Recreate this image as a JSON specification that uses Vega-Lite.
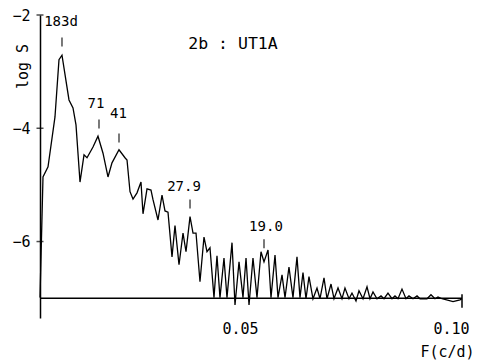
{
  "$schema": "https://vega.github.io/schema/vega-lite/v6.json",
  "width": 422,
  "height": 303,
  "autosize": {"type": "none"},
  "padding": {"left": 40, "top": 15, "right": 24, "bottom": 44},
  "background": "white",
  "config": {"view": {"stroke": null}, "font": "DejaVu Sans Mono"},
  "datasets": {
    "spectrum": [
      {"f": 0.0000, "s": -6.99}, {"f": 0.00071, "s": -4.86}, {"f": 0.00190, "s": -4.68}, {"f": 0.00355, "s": -3.80},
      {"f": 0.00450, "s": -2.79}, {"f": 0.00521, "s": -2.71}, {"f": 0.00687, "s": -3.50}, {"f": 0.00782, "s": -3.64},
      {"f": 0.00853, "s": -3.94}, {"f": 0.00948, "s": -4.95}, {"f": 0.01043, "s": -4.47}, {"f": 0.01114, "s": -4.52},
      {"f": 0.01256, "s": -4.33}, {"f": 0.01374, "s": -4.14}, {"f": 0.01493, "s": -4.44}, {"f": 0.01611, "s": -4.86},
      {"f": 0.01706, "s": -4.61}, {"f": 0.01872, "s": -4.38}, {"f": 0.02014, "s": -4.52}, {"f": 0.02062, "s": -4.56},
      {"f": 0.02133, "s": -5.12}, {"f": 0.02204, "s": -5.25}, {"f": 0.02299, "s": -5.14}, {"f": 0.02393, "s": -4.95},
      {"f": 0.02441, "s": -5.51}, {"f": 0.02536, "s": -5.07}, {"f": 0.02630, "s": -5.09}, {"f": 0.02678, "s": -5.26},
      {"f": 0.02796, "s": -5.62}, {"f": 0.02891, "s": -5.18}, {"f": 0.02962, "s": -5.46}, {"f": 0.03033, "s": -5.48},
      {"f": 0.03128, "s": -6.27}, {"f": 0.03199, "s": -5.72}, {"f": 0.03294, "s": -6.41}, {"f": 0.03389, "s": -5.85},
      {"f": 0.03460, "s": -6.18}, {"f": 0.03555, "s": -5.56}, {"f": 0.03626, "s": -5.85}, {"f": 0.03697, "s": -5.85},
      {"f": 0.03791, "s": -6.71}, {"f": 0.03886, "s": -5.92}, {"f": 0.03957, "s": -6.18}, {"f": 0.04028, "s": -6.11},
      {"f": 0.04123, "s": -6.99}, {"f": 0.04194, "s": -6.25}, {"f": 0.04265, "s": -6.99}, {"f": 0.04360, "s": -6.29},
      {"f": 0.04431, "s": -6.99}, {"f": 0.04550, "s": -6.02}, {"f": 0.04621, "s": -7.12}, {"f": 0.04716, "s": -6.36},
      {"f": 0.04810, "s": -6.99}, {"f": 0.04882, "s": -6.29}, {"f": 0.04953, "s": -7.12}, {"f": 0.05047, "s": -6.29},
      {"f": 0.05142, "s": -6.99}, {"f": 0.05237, "s": -6.18}, {"f": 0.05308, "s": -6.36}, {"f": 0.05403, "s": -6.15},
      {"f": 0.05474, "s": -6.99}, {"f": 0.05569, "s": -6.24}, {"f": 0.05640, "s": -6.99}, {"f": 0.05735, "s": -6.59},
      {"f": 0.05806, "s": -6.99}, {"f": 0.05900, "s": -6.45}, {"f": 0.05995, "s": -6.99}, {"f": 0.06090, "s": -6.27},
      {"f": 0.06161, "s": -6.99}, {"f": 0.06232, "s": -6.55}, {"f": 0.06303, "s": -7.01}, {"f": 0.06374, "s": -6.62},
      {"f": 0.06469, "s": -7.01}, {"f": 0.06564, "s": -6.82}, {"f": 0.06635, "s": -7.01}, {"f": 0.06730, "s": -6.64},
      {"f": 0.06801, "s": -7.01}, {"f": 0.06896, "s": -6.75}, {"f": 0.06967, "s": -7.01}, {"f": 0.07062, "s": -6.82},
      {"f": 0.07156, "s": -7.01}, {"f": 0.07227, "s": -6.82}, {"f": 0.07322, "s": -7.01}, {"f": 0.07393, "s": -6.91},
      {"f": 0.07488, "s": -7.05}, {"f": 0.07559, "s": -6.87}, {"f": 0.07654, "s": -7.01}, {"f": 0.07749, "s": -6.80},
      {"f": 0.07820, "s": -7.01}, {"f": 0.07891, "s": -6.89}, {"f": 0.07986, "s": -7.01}, {"f": 0.08081, "s": -6.96},
      {"f": 0.08152, "s": -7.01}, {"f": 0.08246, "s": -6.91}, {"f": 0.08341, "s": -7.01}, {"f": 0.08412, "s": -6.96},
      {"f": 0.08483, "s": -7.01}, {"f": 0.08578, "s": -6.84}, {"f": 0.08673, "s": -7.01}, {"f": 0.08744, "s": -6.96},
      {"f": 0.08839, "s": -7.01}, {"f": 0.08934, "s": -6.96}, {"f": 0.09005, "s": -7.01}, {"f": 0.09171, "s": -7.01},
      {"f": 0.09265, "s": -6.94}, {"f": 0.09360, "s": -7.01}, {"f": 0.09431, "s": -6.98}, {"f": 0.09526, "s": -7.01},
      {"f": 0.09787, "s": -7.06}, {"f": 0.09953, "s": -7.03}, {"f": 0.1000, "s": -7.01}
    ],
    "labels": [
      {"f": 0.00498, "s": -2.132, "t": "183d"},
      {"f": 0.01327, "s": -3.570, "t": "71"},
      {"f": 0.01860, "s": -3.747, "t": "41"},
      {"f": 0.03412, "s": -5.044, "t": "27.9"},
      {"f": 0.05355, "s": -5.741, "t": "19.0"}
    ],
    "caption": [
      {"f": 0.04573, "s": -2.512, "t": "2b : UT1A"}
    ],
    "peaks": [
      {"f": 0.00521, "s": -2.476},
      {"f": 0.01398, "s": -3.923},
      {"f": 0.01872, "s": -4.170},
      {"f": 0.03555, "s": -5.335},
      {"f": 0.05308, "s": -6.041}
    ],
    "yticks": [{"f": 0, "s": -2}, {"f": 0, "s": -4}, {"f": 0, "s": -6}],
    "base": [{"f": 0, "f2": 0.1, "s": -7.0}],
    "endtick": [{"f": 0.1, "s": -6.93, "s2": -7.17}]
  },
  "encoding": {
    "x": {
      "field": "f", "type": "quantitative",
      "scale": {"domain": [0, 0.1], "nice": false, "zero": false},
      "axis": {
        "values": [0.05, 0.1], "format": ".2f", "domain": false, "ticks": false, "grid": false,
        "labelFont": "DejaVu Sans Mono", "labelFontSize": 15, "labelColor": "black",
        "labelPadding": 3, "labelOffset": -11, "labelFlush": false,
        "title": "F(c/d)", "titleFont": "DejaVu Sans Mono", "titleFontSize": 15, "titleFontWeight": "normal",
        "titleColor": "black", "titleX": 407, "titleY": 33, "titleAlign": "center", "titleBaseline": "middle"
      }
    },
    "y": {
      "field": "s", "type": "quantitative",
      "scale": {"domain": [-7.35, -2], "nice": false, "zero": false},
      "axis": {
        "values": [-2, -4, -6], "format": "d", "domain": true, "domainColor": "black", "domainWidth": 1.5,
        "ticks": false, "grid": false,
        "labelFont": "DejaVu Sans Mono", "labelFontSize": 15, "labelColor": "black", "labelPadding": 10,
        "labelFlush": false,
        "title": "log S", "titleFont": "DejaVu Sans Mono", "titleFontSize": 15, "titleFontWeight": "normal",
        "titleColor": "black", "titleX": -18, "titleY": 51, "titleAngle": 270,
        "titleAlign": "center", "titleBaseline": "middle"
      }
    }
  },
  "layer": [
    {
      "data": {"name": "spectrum"},
      "mark": {"type": "line", "color": "black", "strokeWidth": 1.3, "interpolate": "linear"}
    },
    {
      "data": {"name": "base"},
      "mark": {"type": "rule", "color": "black", "strokeWidth": 1.5},
      "encoding": {"x2": {"field": "f2"}}
    },
    {
      "data": {"name": "endtick"},
      "mark": {"type": "rule", "color": "black", "strokeWidth": 1.5},
      "encoding": {"y2": {"field": "s2"}}
    },
    {
      "data": {"name": "yticks"},
      "mark": {"type": "tick", "orient": "horizontal", "color": "black", "size": 7, "thickness": 1.5}
    },
    {
      "data": {"name": "peaks"},
      "mark": {"type": "tick", "orient": "vertical", "color": "black", "size": 9, "thickness": 1.5}
    },
    {
      "data": {"name": "labels"},
      "mark": {"type": "text", "font": "DejaVu Sans Mono", "fontSize": 14, "color": "black", "align": "center", "baseline": "middle"},
      "encoding": {"text": {"field": "t", "type": "nominal"}}
    },
    {
      "data": {"name": "caption"},
      "mark": {"type": "text", "font": "DejaVu Sans Mono", "fontSize": 16.5, "color": "black", "align": "center", "baseline": "middle"},
      "encoding": {"text": {"field": "t", "type": "nominal"}}
    }
  ]
}
